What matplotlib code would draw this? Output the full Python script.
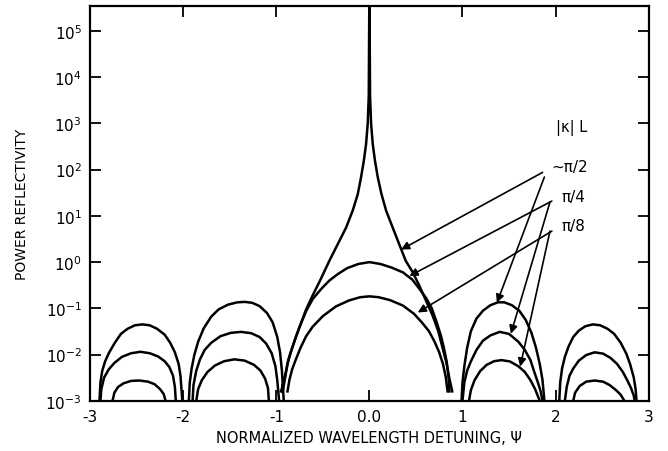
import numpy as np
from matplotlib import pyplot as plt

nan = np.nan

# |k|L ~ pi/2  (lobes separated by nan)
psi_pi2 = [-2.90, -2.89, -2.87, -2.84, -2.80, -2.74, -2.67, -2.60, -2.52, -2.44, -2.36, -2.28,
           -2.20, -2.14, -2.09, -2.05, -2.03, -2.01, nan,
           -1.94, -1.93, -1.91, -1.88, -1.84, -1.78, -1.70, -1.62, -1.52, -1.42, -1.34, -1.26,
           -1.18, -1.10, -1.04, -0.99, -0.96, -0.94, -0.93, -0.92, nan,
           -0.95, -0.93, -0.91, -0.87, -0.83, -0.79, -0.74, -0.68, -0.61, -0.53, -0.43, -0.34,
           -0.25, -0.18, -0.125, -0.09, -0.06, -0.036, -0.018, -0.007, 0.0,
           0.007, 0.018, 0.036, 0.06, 0.09, 0.13, 0.18, 0.25, 0.32, 0.39, 0.46, 0.53, 0.60,
           0.68, 0.74, 0.79, 0.83, 0.86, 0.89, nan,
           0.99, 1.00, 1.02, 1.05, 1.09, 1.15, 1.22, 1.30, 1.38, 1.45, 1.53, 1.61, 1.68, 1.74,
           1.79, 1.83, 1.86, 1.88, nan,
           2.04, 2.05, 2.07, 2.10, 2.14, 2.19, 2.25, 2.32, 2.40, 2.48, 2.56, 2.63, 2.70, 2.76,
           2.80, 2.84, 2.86, 2.87]
R_pi2 = [1e-3, 2.5e-3, 4.5e-3, 7.1e-3, 0.0107, 0.0174, 0.028, 0.036, 0.043, 0.045, 0.043, 0.036,
         0.027, 0.018, 0.0112, 6.3e-3, 3.5e-3, 1e-3, nan,
         1e-3, 2.5e-3, 5.0e-3, 0.010, 0.019, 0.037, 0.066, 0.095, 0.12, 0.135, 0.138, 0.132,
         0.112, 0.079, 0.050, 0.024, 0.0112, 4.5e-3, 2.0e-3, 1e-3, nan,
         1.6e-3, 2.2e-3, 3.2e-3, 7.9e-3, 0.014, 0.024, 0.045, 0.095, 0.19, 0.40, 1.07, 2.45,
         5.6, 12.9, 29.5, 68, 155, 355, 1000, 4000, 1e6,
         4000, 1000, 355, 155, 68, 29.5, 12.9, 5.6, 2.45, 1.07, 0.63, 0.33, 0.16,
         0.069, 0.032, 0.013, 6.3e-3, 3.0e-3, 1.6e-3, nan,
         1e-3, 2.5e-3, 5.6e-3, 0.014, 0.032, 0.060, 0.089, 0.117, 0.135, 0.135, 0.117, 0.089,
         0.056, 0.030, 0.014, 6.3e-3, 2.8e-3, 1e-3, nan,
         1e-3, 2.5e-3, 5.0e-3, 8.9e-3, 0.015, 0.024, 0.033, 0.041, 0.045, 0.043, 0.036, 0.028,
         0.018, 0.0105, 6.3e-3, 3.2e-3, 1.8e-3, 1e-3]

# |k|L = pi/4
psi_pi4 = [-2.89, -2.88, -2.85, -2.80, -2.74, -2.66, -2.56, -2.46, -2.36, -2.27, -2.20, -2.15,
           -2.11, -2.09, -2.08, nan,
           -1.90, -1.89, -1.86, -1.82, -1.77, -1.70, -1.60, -1.49, -1.38, -1.27, -1.18, -1.11,
           -1.05, -1.01, -0.99, -0.97, nan,
           -0.93, -0.91, -0.88, -0.84, -0.80, -0.75, -0.68, -0.61, -0.52, -0.43, -0.34, -0.24,
           -0.12, 0.0, 0.12, 0.24, 0.36, 0.46, 0.54, 0.61, 0.67, 0.72, 0.77, 0.80, 0.83, 0.85,
           0.86, nan,
           1.00, 1.02, 1.05, 1.09, 1.15, 1.22, 1.30, 1.40, 1.50, 1.60, 1.67, 1.73, 1.77, 1.81,
           1.84, 1.86, nan,
           2.10, 2.12, 2.15, 2.19, 2.25, 2.33, 2.42, 2.51, 2.59, 2.66, 2.72, 2.77, 2.81, 2.84, 2.85]
R_pi4 = [1e-3, 1.8e-3, 3.2e-3, 4.8e-3, 6.6e-3, 8.9e-3, 0.0107, 0.0115, 0.0107, 9.1e-3, 7.2e-3,
         5.4e-3, 3.5e-3, 2.0e-3, 1e-3, nan,
         1e-3, 2.2e-3, 4.5e-3, 7.9e-3, 0.0126, 0.018, 0.025, 0.0295, 0.031, 0.029, 0.024, 0.0174,
         0.0107, 5.6e-3, 2.8e-3, 1e-3, nan,
         1.6e-3, 2.8e-3, 6.3e-3, 0.012, 0.021, 0.040, 0.087, 0.158, 0.26, 0.40, 0.55, 0.74,
         0.91, 1.0, 0.91, 0.76, 0.60, 0.42, 0.26, 0.166, 0.10, 0.052, 0.025, 0.014, 7.1e-3, 3.2e-3,
         1.6e-3, nan,
         1e-3, 2.5e-3, 4.5e-3, 7.1e-3, 0.0126, 0.020, 0.026, 0.031, 0.028, 0.019, 0.0126, 7.6e-3,
         4.3e-3, 2.5e-3, 1.6e-3, 1e-3, nan,
         1e-3, 2.0e-3, 3.5e-3, 5.0e-3, 7.4e-3, 9.8e-3, 0.0112, 0.0105, 8.5e-3, 6.3e-3, 4.3e-3,
         2.8e-3, 1.9e-3, 1.3e-3, 1e-3]

# |k|L = pi/8
psi_pi8 = [-2.76, -2.74, -2.70, -2.64, -2.56, -2.47, -2.38, -2.31, -2.25, -2.21, -2.19, nan,
           -1.86, -1.84, -1.80, -1.74, -1.66, -1.56, -1.45, -1.34, -1.24, -1.17, -1.12, -1.09,
           -1.08, nan,
           -0.88, -0.86, -0.83, -0.79, -0.74, -0.68, -0.61, -0.50, -0.36, -0.22, -0.10, 0.0,
           0.10, 0.22, 0.36, 0.48, 0.57, 0.64, 0.70, 0.75, 0.79, 0.82, 0.84, nan,
           1.07, 1.09, 1.13, 1.19, 1.26, 1.34, 1.42, 1.51, 1.60, 1.67, 1.73, 1.78, 1.83, nan,
           2.19, 2.21, 2.26, 2.33, 2.42, 2.51, 2.58, 2.65, 2.70, 2.74]
R_pi8 = [1e-3, 1.5e-3, 2.0e-3, 2.4e-3, 2.7e-3, 2.75e-3, 2.6e-3, 2.3e-3, 1.8e-3, 1.4e-3, 1e-3, nan,
         1e-3, 1.8e-3, 2.8e-3, 4.2e-3, 5.8e-3, 7.2e-3, 7.9e-3, 7.4e-3, 6.0e-3, 4.5e-3, 3.0e-3,
         1.9e-3, 1e-3, nan,
         1.6e-3, 2.8e-3, 4.8e-3, 7.9e-3, 0.014, 0.025, 0.040, 0.068, 0.11, 0.148, 0.174, 0.182,
         0.174, 0.151, 0.115, 0.076, 0.048, 0.032, 0.019, 0.0112, 6.3e-3, 3.3e-3, 1.6e-3, nan,
         1e-3, 1.7e-3, 2.8e-3, 4.4e-3, 6.0e-3, 7.2e-3, 7.6e-3, 7.1e-3, 5.6e-3, 4.2e-3, 2.8e-3,
         1.8e-3, 1e-3, nan,
         1e-3, 1.5e-3, 2.1e-3, 2.6e-3, 2.75e-3, 2.6e-3, 2.2e-3, 1.7e-3, 1.35e-3, 1e-3]

x_ticks = [-3, -2, -1, 0, 1, 2, 3]
x_ticklabels = ['-3', '-2', '-1', '0.0', '1', '2', '3']
y_ticks = [1e-3, 1e-2, 1e-1, 1e0, 1e1, 1e2, 1e3, 1e4, 1e5]

fig = plt.figure(figsize=(6.68, 4.52), dpi=100)
ax = fig.add_axes([0.135, 0.111, 0.836, 0.874])

for psi, R in [(psi_pi2, R_pi2), (psi_pi4, R_pi4), (psi_pi8, R_pi8)]:
    ax.plot(psi, R, color='k', lw=1.8, solid_joinstyle='round')

ax.set_yscale('log')
ax.set_xlim(-3, 3)
ax.set_ylim(1e-3, 3.5e5)
ax.set_xticks(x_ticks)
ax.set_xticklabels(x_ticklabels)
ax.set_yticks(y_ticks)
ax.minorticks_off()
ax.tick_params(direction='in', length=8, width=1.3, top=True, right=True,
               labelsize=11, pad=6)
for sp in ax.spines.values():
    sp.set_linewidth(1.6)

ax.set_xlabel('NORMALIZED WAVELENGTH DETUNING, \u03a8', fontsize=10.5, labelpad=4)
ax.set_ylabel('POWER REFLECTIVITY', fontsize=10, labelpad=12)

# kL labels and arrows pointing to the curves
ax.text(2.01, 10**2.92, '|\u03ba| L', fontsize=10.5, va='center')
ax.text(1.96, 10**2.07, '~\u03c0/2', fontsize=11, va='center')
ax.text(2.06, 10**1.43, '\u03c0/4', fontsize=11, va='center')
ax.text(2.06, 10**0.80, '\u03c0/8', fontsize=11, va='center')

arrows = [((1.86, 10**1.94), (0.34, 10**0.27)),
          ((1.88, 10**1.84), (1.37, 10**-0.88)),
          ((1.96, 10**1.32), (0.43, 10**-0.30)),
          ((1.94, 10**1.30), (1.52, 10**-1.55)),
          ((1.96, 10**0.67), (0.52, 10**-1.09)),
          ((1.94, 10**0.67), (1.62, 10**-2.26))]
for start, end in arrows:
    ax.annotate('', xy=end, xytext=start,
                arrowprops=dict(arrowstyle='-|>', color='k', lw=1.2,
                                mutation_scale=12, shrinkA=0, shrinkB=0))

fig.savefig('out.png', dpi=100)
